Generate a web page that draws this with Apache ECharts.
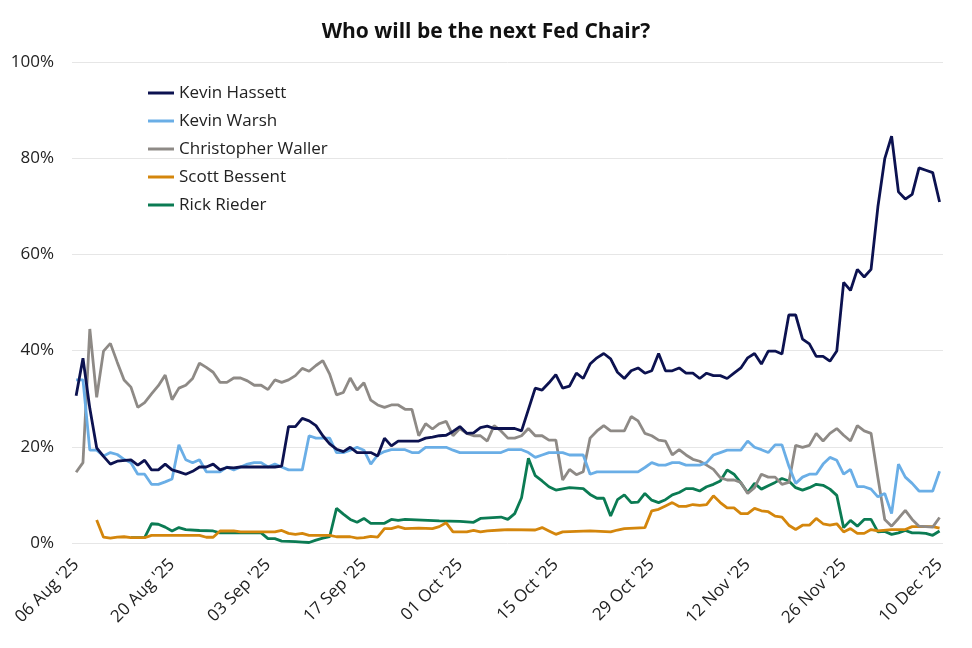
<!DOCTYPE html>
<html>
<head>
<meta charset="utf-8">
<title>Who will be the next Fed Chair?</title>
<script src="https://cdn.jsdelivr.net/npm/echarts@6/dist/echarts.min.js"></script>
<style>
  html, body { margin: 0; padding: 0; background: #fff; }
  #chart { width: 972px; height: 648px; }
</style>
</head>
<body>
<div id="chart"></div>
<script>
// days counted from 06 Aug '25, values in %
var tickDays = [0, 14, 28, 42, 56, 70, 84, 98, 112, 126];
var tickLabels = ["06 Aug '25", "20 Aug '25", "03 Sep '25", "17 Sep '25", "01 Oct '25",
  "15 Oct '25", "29 Oct '25", "12 Nov '25", "26 Nov '25", "10 Dec '25"];

var names = ['Kevin Hassett', 'Kevin Warsh', 'Christopher Waller', 'Scott Bessent', 'Rick Rieder'];
var colors = ['#0c1250', '#6aaee6', '#8e8a86', '#d4860c', '#0b7b53'];

var hassett = [[0,30.6],[1,38.4],[2,28],[3,19.8],[4,18],[5,16.4],[6,17],[8,17.3],[9,16.2],[10,17.2],
  [11,15.2],[12,15.2],[13,16.4],[14,15.2],[15,14.8],[16,14.3],[17,14.9],[18,15.8],[19,15.8],[20,16.4],
  [21,15.2],[22,15.7],[23,15.6],[24,15.8],[29,15.8],[30,16],[31,24.2],[32,24.2],[33,25.9],[34,25.4],
  [35,24.4],[36,22.3],[37,20.6],[38,19.5],[39,19],[40,19.9],[41,18.8],[43,18.8],[44,18.1],[45,21.8],
  [46,20.2],[47,21.2],[50,21.2],[51,21.8],[52,22],[53,22.3],[54,22.4],[55,23.2],[56,24.2],[57,22.8],
  [58,22.9],[59,24],[60,24.3],[61,23.8],[64,23.8],[65,23.3],[67,32.2],[68,31.8],[69,33.3],[70,35],
  [71,32.2],[72,32.6],[73,35.3],[74,34.2],[75,37.2],[76,38.5],[77,39.4],[78,38.3],[79,35.5],[80,34.2],
  [81,35.8],[82,36.4],[83,35.3],[84,35.8],[85,39.4],[86,35.8],[87,35.8],[88,36.4],[89,35.3],[90,35.3],
  [91,34.2],[92,35.3],[93,34.8],[94,34.8],[95,34.2],[96,35.3],[97,36.4],[98,38.5],[99,39.4],[100,37.2],
  [101,39.9],[102,39.9],[103,39.3],[104,47.4],[105,47.4],[106,42.4],[107,41.4],[108,38.8],[109,38.8],[110,37.8],
  [111,39.9],[112,54.2],[113,52.5],[114,56.9],[115,55.3],[116,56.9],[117,69.9],[118,79.9],[119,84.6],[120,73],
  [121,71.5],[122,72.5],[123,78],[124,77.5],[125,77],[126,70.9]];

var warsh = [[0,33.9],[1,33.9],[2,19.3],[3,19.3],[4,18.1],[5,18.8],[6,18.4],[7,17.4],[8,16.7],[9,14.3],
  [10,14.3],[11,12.2],[12,12.2],[13,12.7],[14,13.3],[15,20.4],[16,17.3],[17,16.7],[18,17.3],[19,14.8],
  [20,14.8],[21,14.8],[22,15.8],[23,15.2],[24,15.8],[25,16.4],[26,16.7],[27,16.7],[28,15.8],[29,16.4],
  [30,15.8],[31,15.2],[32,15.2],[33,15.2],[34,22.3],[35,21.8],[36,21.8],[37,21.8],[38,18.8],[39,18.8],
  [40,19.3],[41,19.9],[42,19.3],[43,16.4],[44,18.3],[45,19],[46,19.4],[48,19.4],[49,18.8],[50,18.8],
  [51,19.9],[54,19.9],[55,19.3],[56,18.8],[62,18.8],[63,19.4],[65,19.4],[66,18.8],[67,17.8],[68,18.3],
  [69,18.8],[71,18.8],[72,18.3],[74,18.3],[75,14.3],[76,14.8],[82,14.8],[83,15.7],[84,16.7],[85,16.2],
  [86,16.2],[87,16.7],[88,16.7],[89,16.2],[91,16.2],[92,16.7],[93,18.3],[94,18.8],[95,19.3],[97,19.3],
  [98,21.2],[99,19.9],[100,19.4],[101,18.8],[102,20.4],[103,20.4],[104,16],[105,12.4],[106,13.7],[107,14.3],
  [108,14.3],[109,16.4],[110,17.8],[111,17.2],[112,14.3],[113,15.3],[114,11.7],[115,11.7],[116,11.2],[117,9.6],
  [118,10.3],[119,6.1],[120,16.4],[121,13.7],[122,12.4],[123,10.8],[125,10.8],[126,14.9]];

var waller = [[0,14.7],[1,16.7],[2,44.5],[3,30.3],[4,39.9],[5,41.5],[6,37.6],[7,33.9],[8,32.4],[9,28.2],
  [10,29.2],[11,31],[12,32.7],[13,34.9],[14,29.8],[15,32.2],[16,32.8],[17,34.2],[18,37.4],[19,36.5],
  [20,35.5],[21,33.4],[22,33.4],[23,34.3],[24,34.3],[25,33.7],[26,32.8],[27,32.8],[28,31.9],[29,33.9],
  [30,33.4],[31,33.9],[32,34.8],[33,36.3],[34,35.7],[35,36.9],[36,37.9],[37,35.1],[38,30.8],[39,31.3],
  [40,34.3],[41,31.8],[42,33.3],[43,29.7],[44,28.7],[45,28.2],[46,28.7],[47,28.7],[48,27.8],[49,27.8],
  [50,22.3],[51,24.8],[52,23.7],[53,24.8],[54,25.3],[55,22.3],[56,23.8],[57,22.8],[58,22.3],[59,22.3],
  [60,21.2],[61,24.4],[62,23.3],[63,21.8],[64,21.8],[65,22.3],[66,23.8],[67,22.3],[68,22.3],[69,21.4],
  [70,21.4],[71,13.1],[72,15.3],[73,14.2],[74,14.8],[75,21.8],[76,23.3],[77,24.4],[78,23.3],[80,23.3],
  [81,26.3],[82,25.4],[83,22.8],[84,22.3],[85,21.4],[86,21.2],[87,18.3],[88,19.4],[89,18.3],[90,17.4],
  [91,17],[92,16.2],[93,15.3],[94,13.6],[95,13.1],[96,13.1],[97,12.6],[98,10.3],[99,11.5],[100,14.3],
  [101,13.7],[102,13.7],[103,12.2],[104,12.6],[105,20.3],[106,19.9],[107,20.3],[108,22.8],[109,21.2],[110,22.8],
  [111,23.8],[112,22.4],[113,21.2],[114,24.4],[115,23.3],[116,22.8],[117,13.6],[118,4.9],[119,3.5],[120,5.1],
  [121,6.8],[122,4.9],[123,3.5],[125,3.3],[126,5.3]];

var bessent = [[3,4.8],[4,1.2],[5,1.0],[6,1.2],[7,1.3],[8,1.1],[10,1.1],[11,1.6],[18,1.6],[19,1.2],
  [20,1.2],[21,2.5],[23,2.5],[24,2.3],[29,2.3],[30,2.6],[31,2.0],[32,1.8],[33,2.0],[34,1.6],
  [37,1.6],[38,1.3],[40,1.3],[41,1.0],[42,1.1],[43,1.4],[44,1.2],[45,3.0],[46,3.0],[47,3.4],
  [48,3.0],[50,3.1],[52,3.0],[53,3.4],[54,4.2],[55,2.3],[57,2.3],[58,2.6],[59,2.3],[60,2.5],
  [62,2.7],[63,2.8],[67,2.7],[68,3.2],[69,2.5],[70,1.8],[71,2.3],[75,2.5],[78,2.3],[79,2.7],
  [80,3.0],[83,3.2],[84,6.7],[85,7.0],[86,7.7],[87,8.4],[88,7.6],[89,7.6],[90,8.0],[91,7.8],
  [92,8.0],[93,9.8],[94,8.4],[95,7.3],[96,7.3],[97,6.1],[98,6.1],[99,7.2],[100,6.7],[101,6.5],
  [102,5.6],[103,5.4],[104,3.7],[105,2.8],[106,3.7],[107,3.7],[108,5.1],[109,4.0],[110,3.7],[111,4.0],
  [112,2.3],[113,3.0],[114,2.0],[115,2.0],[116,2.8],[117,2.5],[119,2.8],[121,2.8],[122,3.4],[125,3.4],
  [126,3.1]];

var rieder = [[8,1.1],[10,1.1],[11,4.0],[12,3.9],[13,3.3],[14,2.5],[15,3.2],[16,2.8],[18,2.6],[20,2.5],
  [21,2.1],[27,2.1],[28,0.9],[29,0.9],[30,0.4],[32,0.3],[33,0.2],[34,0.1],[35,0.6],[36,1.0],
  [37,1.3],[38,7.2],[39,6.0],[40,4.9],[41,4.3],[42,5.1],[43,4.1],[45,4.1],[46,4.9],[47,4.7],
  [48,4.9],[53,4.6],[56,4.5],[58,4.3],[59,5.1],[62,5.4],[63,4.9],[64,6.1],[65,9.4],[66,17.6],
  [67,14.0],[68,12.9],[69,11.7],[70,11.0],[72,11.5],[74,11.3],[75,10.1],[76,9.3],[77,9.3],[78,5.6],
  [79,9.0],[80,10.0],[81,8.4],[82,8.5],[83,10.3],[84,8.9],[85,8.4],[86,9.0],[87,10.0],[88,10.5],
  [89,11.3],[90,11.3],[91,10.8],[92,11.7],[93,12.2],[94,12.9],[95,15.2],[96,14.3],[97,12.5],[98,10.5],
  [99,12.4],[100,11.2],[101,11.9],[102,12.6],[103,13.4],[104,12.9],[105,11.5],[106,11.0],[107,11.5],[108,12.2],
  [109,12.0],[110,11.2],[111,9.9],[112,3.2],[113,4.7],[114,3.5],[115,4.9],[116,4.9],[117,2.3],[118,2.4],
  [119,1.8],[120,2.1],[121,2.6],[122,2.1],[123,2.1],[124,2.0],[125,1.6],[126,2.5]];

var seriesData = [hassett, warsh, waller, bessent, rieder];
var fontFamily = '"Open Sans", "Noto Sans", sans-serif';

var myChart = echarts.init(document.getElementById('chart'));

var option = {
  backgroundColor: '#ffffff',
  animation: false,
  color: colors,
  title: {
    text: 'Who will be the next Fed Chair?',
    left: 'center',
    top: 17,
    textStyle: { fontFamily: fontFamily, fontSize: 21, fontWeight: 'bold', color: '#111' }
  },
  legend: {
    orient: 'vertical',
    left: 143,
    top: 79,
    icon: 'rect',
    itemWidth: 26,
    itemHeight: 3,
    itemGap: 10,
    data: names,
    textStyle: { fontFamily: fontFamily, fontSize: 17, color: '#222', lineHeight: 18 }
  },
  grid: { left: 72, right: 29, top: 62, bottom: 105, containLabel: false },
  xAxis: {
    type: 'value',
    min: -0.6,
    max: 126.5,
    axisLine: { show: false },
    axisTick: { show: false },
    splitLine: { show: false },
    axisLabel: {
      customValues: tickDays,
      rotate: 45,
      margin: 19,
      fontFamily: fontFamily,
      fontSize: 17,
      color: '#222',
      formatter: function (v) {
        var i = tickDays.indexOf(Math.round(v));
        return i >= 0 ? tickLabels[i] : '';
      }
    }
  },
  yAxis: {
    type: 'value',
    min: 0,
    max: 100,
    interval: 20,
    axisLine: { show: false },
    axisTick: { show: false },
    splitLine: { lineStyle: { color: '#e6e6e6', width: 1 } },
    axisLabel: {
      formatter: '{value}%',
      margin: 18,
      fontFamily: fontFamily,
      fontSize: 17,
      color: '#222'
    }
  },
  series: names.map(function (n, i) {
    return {
      name: n,
      type: 'line',
      data: seriesData[i],
      showSymbol: false,
      symbol: 'none',
      lineStyle: { width: 2.8, color: colors[i] },
      z: 10 - i
    };
  })
};

myChart.setOption(option);
</script>
</body>
</html>
